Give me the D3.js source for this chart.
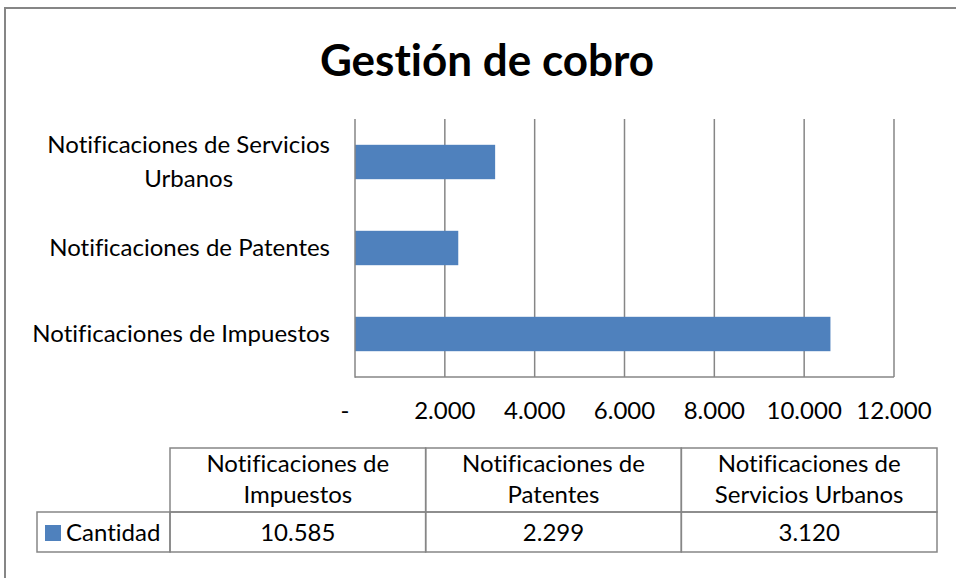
<!DOCTYPE html>
<html lang="es">
<head>
    <meta charset="UTF-8">
    <title>Gestión de cobro</title>
    <script src="https://d3js.org/d3.v7.min.js"></script>
    <style>
        body {
            margin: 0;
            background: #fff;
            font-family: Lato, "Open Sans", sans-serif;
        }

        text {
            font-variant-ligatures: none;
        }

        .grid line {
            stroke: #868686;
            stroke-width: 1.5px;
        }

        .label {
            font-size: 24px;
            fill: #000;
        }

        .cell {
            fill: none;
            stroke: #868686;
            stroke-width: 1.5px;
        }
    </style>
</head>
<body>
    <div id="chart"></div>

    <script>
        // data (bottom to top as in the chart)
        const categories = ['Notificaciones de Impuestos', 'Notificaciones de Patentes', 'Notificaciones de Servicios Urbanos'];
        const values = [10585, 2299, 3120];
        const seriesName = 'Cantidad';
        const xTicks = [0, 2000, 4000, 6000, 8000, 10000, 12000];
        // line breaks as drawn on the category axis / in the table header
        const axisLines = [['Notificaciones de Impuestos'], ['Notificaciones de Patentes'], ['Notificaciones de Servicios', 'Urbanos']];
        const headerLines = [['Notificaciones de', 'Impuestos'], ['Notificaciones de', 'Patentes'], ['Notificaciones de', 'Servicios Urbanos']];

        const width = 956, height = 578;
        const barColor = '#4F81BD';

        const svg = d3.select('#chart').append('svg')
            .attr('width', width)
            .attr('height', height);

        // outer chart border (runs off the right and bottom edge)
        svg.append('rect')
            .attr('x', 5).attr('y', 8)
            .attr('width', 1000).attr('height', 700)
            .attr('fill', '#fff')
            .attr('stroke', '#868686')
            .attr('stroke-width', 2);

        svg.append('text')
            .attr('x', 487).attr('y', 76)
            .attr('text-anchor', 'middle')
            .style('font-size', '44px')
            .style('font-weight', 'bold')
            .text('Gestión de cobro');

        const plot = { left: 355, right: 894, top: 119, bottom: 377 };

        const x = d3.scaleLinear()
            .domain([0, 12000])
            .range([plot.left, plot.right]);

        const y = d3.scaleBand()
            .domain(categories.slice().reverse())
            .range([plot.top, plot.bottom])
            .paddingInner(0.6)
            .paddingOuter(0.3);

        // vertical gridlines
        svg.append('g').attr('class', 'grid')
            .selectAll('line')
            .data(xTicks.filter(d => d > 0))
            .enter().append('line')
            .attr('x1', d => x(d)).attr('x2', d => x(d))
            .attr('y1', plot.top).attr('y2', plot.bottom);

        svg.selectAll('.bar')
            .data(categories)
            .enter().append('rect')
            .attr('class', 'bar')
            .attr('x', x(0))
            .attr('y', d => y(d))
            .attr('width', (d, i) => x(values[i]) - x(0))
            .attr('height', y.bandwidth())
            .attr('fill', barColor);

        // axes lines
        const axisG = svg.append('g').attr('class', 'grid');
        axisG.append('line')
            .attr('x1', plot.left).attr('x2', plot.left)
            .attr('y1', plot.top).attr('y2', plot.bottom + 0.75);
        axisG.append('line')
            .attr('x1', plot.left).attr('x2', plot.right)
            .attr('y1', plot.bottom).attr('y2', plot.bottom);

        const fmt = d => d === 0 ? '-' : d3.format(',')(d).replace(/,/g, '.');
        svg.selectAll('.xtick')
            .data(xTicks)
            .enter().append('text')
            .attr('class', 'label xtick')
            .attr('x', d => d === 0 ? x(d) - 10 : x(d))
            .attr('y', 419)
            .attr('text-anchor', 'middle')
            .text(fmt);

        // category labels (wrapped lines centred under the first one)
        categories.forEach((c, i) => {
            const lines = axisLines[i];
            const cy = y(c) + y.bandwidth() / 2;
            const top = cy - (lines.length - 1) * 17 + 8;
            const first = svg.append('text')
                .attr('class', 'label')
                .attr('text-anchor', 'end')
                .attr('x', 330).attr('y', top)
                .text(lines[0]);
            const w = first.node().getComputedTextLength();
            lines.slice(1).forEach((l, j) => {
                svg.append('text')
                    .attr('class', 'label')
                    .attr('text-anchor', 'middle')
                    .attr('x', 330 - w / 2)
                    .attr('y', top + 34 * (j + 1))
                    .text(l);
            });
        });

        // data table
        const table = { left: 170, rowLeft: 37, right: 937, top: 448, mid: 512, bottom: 552 };
        const col = d3.scaleBand()
            .domain(categories)
            .range([table.left, table.right]);

        svg.append('g').selectAll('rect')
            .data(categories)
            .enter().append('rect')
            .attr('class', 'cell')
            .attr('x', d => col(d)).attr('y', table.top)
            .attr('width', col.bandwidth()).attr('height', table.mid - table.top);

        svg.append('g').selectAll('rect')
            .data(categories)
            .enter().append('rect')
            .attr('class', 'cell')
            .attr('x', d => col(d)).attr('y', table.mid)
            .attr('width', col.bandwidth()).attr('height', table.bottom - table.mid);

        svg.append('rect')
            .attr('class', 'cell')
            .attr('x', table.rowLeft).attr('y', table.mid)
            .attr('width', table.left - table.rowLeft).attr('height', table.bottom - table.mid);

        categories.forEach((c, i) => {
            const t = svg.append('text')
                .attr('class', 'label')
                .attr('text-anchor', 'middle')
                .attr('x', col(c) + col.bandwidth() / 2)
                .attr('y', 472);
            headerLines[i].forEach((l, j) => {
                t.append('tspan')
                    .attr('x', col(c) + col.bandwidth() / 2)
                    .attr('dy', j === 0 ? 0 : 31)
                    .text(l);
            });
            svg.append('text')
                .attr('class', 'label')
                .attr('text-anchor', 'middle')
                .attr('x', col(c) + col.bandwidth() / 2)
                .attr('y', 541)
                .text(values[i].toLocaleString('de-DE'));
        });

        svg.append('rect')
            .attr('x', 45).attr('y', 525)
            .attr('width', 16).attr('height', 16)
            .attr('fill', barColor);
        svg.append('text')
            .attr('class', 'label')
            .attr('x', 66).attr('y', 541)
            .text(seriesName);
    </script>
</body>
</html>
